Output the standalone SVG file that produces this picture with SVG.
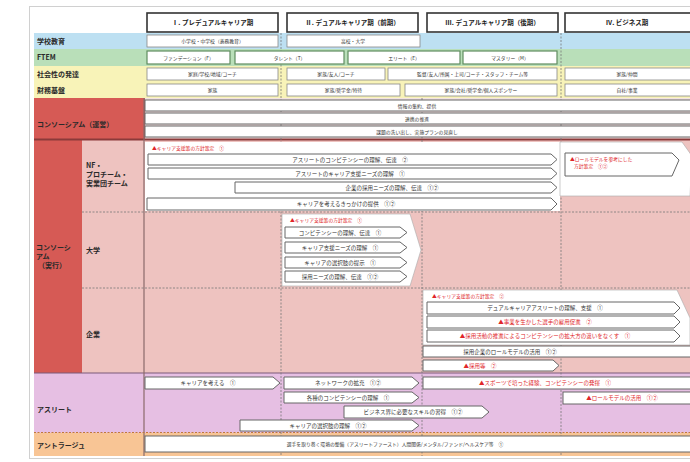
<svg xmlns="http://www.w3.org/2000/svg" width="690" height="462" viewBox="0 0 690 462">
<style>
text{font-family:"Noto Sans CJK JP","Noto Sans",sans-serif;fill:#333}
.hd{font-size:6.5px;font-weight:bold;fill:#222;text-anchor:middle}
.lb{font-size:7px;font-weight:bold;fill:#2a2a2a}
.t{font-size:5.5px;text-anchor:middle}
.ts{font-size:4.8px;text-anchor:middle}
.st{text-anchor:start}
.r{fill:#e0262a}
.box{fill:#fff;stroke:#888;stroke-width:0.8}
.hbox{fill:#fff;stroke:#333;stroke-width:1.6}
.gbox{fill:#fff;stroke:#5f8d5f;stroke-width:1.2}
.bar{fill:#fff;stroke:#666;stroke-width:1}
.area{fill:#fff;stroke:#aaa;stroke-width:0.6}
.dash{stroke:#777;stroke-width:0.8;stroke-dasharray:2 1.5;fill:none}
</style>
<rect x="29.5" y="6.5" width="670" height="452" fill="#fff" stroke="#d0d0d0"/>

<g id="backgrounds">
<rect x="34" y="33" width="656" height="16" fill="#bde0f2"/>
<rect x="34" y="49" width="656" height="17" fill="#b9dfb9"/>
<rect x="34" y="66" width="656" height="32" fill="#f8f3b8"/>
<rect x="34" y="98" width="111" height="42" fill="#d65a55"/>
<rect x="145" y="98" width="545" height="42" fill="#f3e3e2"/>
<rect x="34" y="140" width="48" height="233" fill="#d65a55"/>
<rect x="82" y="140" width="608" height="233" fill="#eec3c0"/>
<rect x="34" y="373" width="656" height="60" fill="#e6bfe3"/>
<rect x="34" y="433" width="656" height="23" fill="#f8c595"/>
<line x1="34" y1="139.5" x2="690" y2="139.5" stroke="#8b3a3a" stroke-width="2"/>
<line x1="34" y1="373" x2="690" y2="373" stroke="#7a5a7a" stroke-width="1.2"/>
<line x1="144" y1="98" x2="144" y2="456" stroke="#8a6a6a" stroke-width="1.2"/>
<line x1="82" y1="212" x2="690" y2="212" class="dash"/>
<line x1="82" y1="288" x2="690" y2="288" class="dash"/>
<line x1="34" y1="432.5" x2="690" y2="432.5" stroke="#c07a3a" stroke-width="1" stroke-dasharray="2 1.5"/>
<line x1="281" y1="33" x2="281" y2="456" class="dash"/>
<line x1="422" y1="98" x2="422" y2="456" class="dash"/>
<line x1="561" y1="33" x2="561" y2="456" class="dash"/>
</g>

<g id="header">
<rect class="hbox" x="147" y="13" width="131" height="19"/>
<text class="hd" x="212.5" y="25">Ⅰ. プレデュアルキャリア期</text>
<rect class="hbox" x="287" y="13" width="131" height="19"/>
<text class="hd" x="352.5" y="25">Ⅱ. デュアルキャリア期（前期）</text>
<rect class="hbox" x="427" y="13" width="131" height="19"/>
<text class="hd" x="492.5" y="25">Ⅲ. デュアルキャリア期（後期）</text>
<rect class="hbox" x="565" y="13" width="130" height="19"/>
<text class="hd" x="627" y="25">Ⅳ. ビジネス期</text>
</g>

<g id="labels">
<text class="lb" x="37" y="44">学校教育</text>
<text class="lb" x="37" y="60">FTEM</text>
<text class="lb" x="37" y="77">社会性の発達</text>
<text class="lb" x="37" y="93">財務基盤</text>
<text class="lb" x="37" y="127">コンソーシアム（運営）</text>
<text class="lb" x="36" y="250">コンソーシ</text>
<text class="lb" x="36" y="259">アム</text>
<text class="lb" x="38" y="268">（実行）</text>
<text class="lb" x="86" y="168">NF・</text>
<text class="lb" x="86" y="177">プロチーム・</text>
<text class="lb" x="86" y="186">実業団チーム</text>
<text class="lb" x="86" y="253">大学</text>
<text class="lb" x="86" y="337">企業</text>
<text class="lb" x="37" y="412">アスリート</text>
<text class="lb" x="37" y="448">アントラージュ</text>
</g>

<g id="school">
<rect class="box" x="147" y="35" width="131" height="12"/>
<text class="ts" x="212.5" y="43">小学校・中学校（義務教育）</text>
<rect class="box" x="287" y="35" width="133" height="12"/>
<text class="ts" x="353" y="43">高校・大学</text>
</g>

<g id="ftem">
<rect class="gbox" x="147" y="51" width="83" height="13"/>
<text class="ts" x="188.5" y="59.5">ファンデーション（F）</text>
<rect class="gbox" x="235" y="51" width="109" height="13"/>
<text class="ts" x="289.5" y="59.5">タレント（T）</text>
<rect class="gbox" x="348" y="51" width="112" height="13"/>
<text class="ts" x="404" y="59.5">エリート（E）</text>
<rect class="gbox" x="463" y="51" width="94" height="13"/>
<text class="ts" x="510" y="59.5">マスタリー（M）</text>
</g>

<g id="social">
<rect class="box" x="147" y="68" width="131" height="12"/>
<text class="ts" x="212.5" y="76">家庭/学校/地域/コーチ</text>
<rect class="box" x="287" y="68" width="98" height="12"/>
<text class="ts" x="336" y="76">家族/友人/コーチ</text>
<rect class="box" x="388" y="68" width="169" height="12"/>
<text class="ts" x="472.5" y="76">監督/友人/所属・上司/コーチ・スタッフ・チーム等</text>
<rect class="box" x="565" y="68" width="130" height="12"/>
<text class="ts" x="627" y="76">家族/仲間</text>
</g>

<g id="finance">
<rect class="box" x="147" y="84" width="131" height="12"/>
<text class="ts" x="212.5" y="92">家族</text>
<rect class="box" x="287" y="84" width="113" height="12"/>
<text class="ts" x="343.5" y="92">家族/奨学金/特待</text>
<rect class="box" x="405" y="84" width="152" height="12"/>
<text class="ts" x="481" y="92">家族/会社/奨学金/個人スポンサー</text>
<rect class="box" x="565" y="84" width="130" height="12"/>
<text class="ts" x="627" y="92">自社/事業</text>
</g>

<g id="consortium-op">
<rect class="bar" x="145" y="100" width="550" height="11"/>
<text class="ts" x="417" y="107.5">情報の集約、提供</text>
<rect class="bar" x="145" y="113" width="550" height="11"/>
<text class="ts" x="417" y="120.5">連携の推進</text>
<rect class="bar" x="145" y="126" width="550" height="11"/>
<text class="ts" x="417" y="133.5">課題の洗い出し、実施プランの見直し</text>
</g>

<g id="nf">
<rect x="145" y="142" width="415" height="69" fill="#fff"/>
<path class="area" d="M560 142 H682 L692 156 L690 196 H560 Z"/>
<text class="ts r st" x="152" y="150">▲キャリア支援策の方針策定　①</text>
<path class="bar" d="M148 154 H551 L557 159.5 L551 165 H148 Z"/>
<text class="t" x="350" y="161.5">アスリートのコンピテンシーの理解、伝達　②</text>
<path class="bar" d="M148 168 H551 L557 173.5 L551 179 H148 Z"/>
<text class="t" x="350" y="175.5">アスリートのキャリア支援ニーズの理解　①</text>
<path class="bar" d="M235 182 H551 L557 187.5 L551 193 H235 Z"/>
<text class="t" x="392" y="189.5">企業の採用ニーズの理解、伝達　①②</text>
<path class="bar" d="M147 198 H551 L557 204 L551 210 H147 Z"/>
<text class="t" x="346" y="206">キャリアを考えるきっかけの提供　①②</text>
<path class="bar" d="M565 153 H672 L679 160 L672 176 H565 Z"/>
<text class="ts r st" x="570" y="161">▲ロールモデルを参考にした</text>
<text class="ts r st" x="574" y="168">方針策定　①②</text>
</g>

<g id="university">
<path class="area" d="M282 214 H410 L421 250 L410 286 H282 Z"/>
<text class="ts r st" x="290" y="221.5">▲キャリア支援策の方針策定　①</text>
<path class="bar" d="M285 227 H400 L407 232.5 L400 238 H285 Z"/>
<text class="t" x="340" y="234.5">コンピテンシーの理解、伝達　①</text>
<path class="bar" d="M285 242 H400 L407 247.5 L400 253 H285 Z"/>
<text class="t" x="340" y="249.5">キャリア支援ニーズの理解　①</text>
<path class="bar" d="M285 257 H400 L407 262.5 L400 268 H285 Z"/>
<text class="t" x="340" y="264.5">キャリアの選択肢の提示　①</text>
<path class="bar" d="M285 271 H400 L407 276.5 L400 282 H285 Z"/>
<text class="t" x="340" y="278.5">採用ニーズの理解、伝達　①②</text>
</g>

<g id="company">
<path class="area" d="M423 290 H677 L690 318 L690 345 H423 Z"/>
<text class="ts r st" x="432" y="297.5">▲キャリア支援策の方針策定　②</text>
<path class="bar" d="M427 302 H674 L680 308 L674 314 H427 Z"/>
<text class="t" x="545" y="310">デュアルキャリアアスリートの理解、支援　①</text>
<path class="bar" d="M427 316 H674 L680 322 L674 328 H427 Z"/>
<text class="t r" x="545" y="324">▲事業を生かした選手の雇用促進　②</text>
<path class="bar" d="M427 330 H674 L680 336 L674 342 H427 Z"/>
<text class="t r" x="545" y="338">▲採用活動の推進によるコンピテンシーの拡大方の違いをなくす　①</text>
<rect class="bar" x="423" y="346" width="270" height="11"/>
<text class="t" x="510" y="353.5">採用企業のロールモデルの活用　①②</text>
<path class="bar" d="M423 360 H553 L559 365.5 L553 371 H423 Z"/>
<text class="t r" x="480" y="367.5">▲採用等　②</text>
</g>

<g id="athlete">
<path class="bar" d="M145 377 H273 L280 383 L273 389 H145 Z"/>
<text class="t" x="208" y="385">キャリアを考える　①</text>
<path class="bar" d="M284 377 H412 L419 383 L412 389 H284 Z"/>
<text class="t" x="348" y="385">ネットワークの拡充　①②</text>
<path class="bar" d="M284 392 H412 L419 397.5 L412 403 H284 Z"/>
<text class="t" x="348" y="399.5">各種のコンピテンシーの理解　①</text>
<path class="bar" d="M344 406 H482 L489 412 L482 418 H344 Z"/>
<text class="t" x="413" y="414">ビジネス界に必要なスキルの習得　①②</text>
<path class="bar" d="M240 420 H412 L419 425.5 L412 431 H240 Z"/>
<text class="t" x="328" y="427.5">キャリアの選択肢の理解　①②</text>
<rect class="bar" x="423" y="377" width="270" height="12"/>
<text class="t r" x="545" y="385">▲スポーツで培った経験、コンピテンシーの発揮　①</text>
<rect class="bar" x="563" y="392" width="130" height="12"/>
<text class="t r" x="622" y="400">▲ロールモデルの活用　①②</text>
</g>

<g id="entourage">
<rect class="bar" x="145" y="436" width="550" height="16"/>
<text class="ts" x="395" y="446">選手を取り巻く環境の整備（アスリートファースト）人間関係/メンタル/ファンド/ヘルスケア等　①</text>
</g>

<g id="connectors"></g>
</svg>
